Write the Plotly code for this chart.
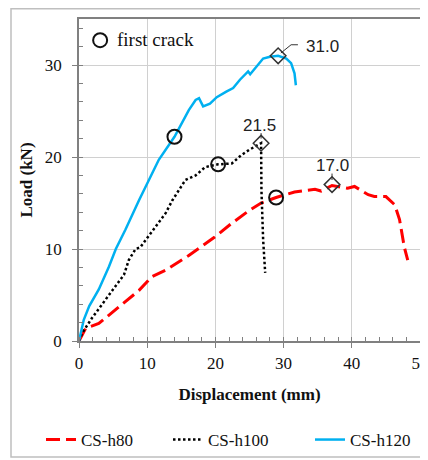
import plotly.graph_objects as go

# ---- data ----
h80_x = [0, 1.0, 2.9, 5.9, 8.8, 10.7, 12.7, 16.1, 18.5, 19.9, 22.4, 24.8, 26.7, 28.9,
         31.6, 34.6, 35.5, 37.1, 39.4, 40.4, 42.4, 43.3, 45.0, 46.3, 47.0, 47.7, 48.2]
h80_y = [0, 1.4, 1.9, 3.7, 5.5, 7.0, 7.7, 9.3, 10.6, 11.3, 12.8, 14.1, 15.0, 15.6,
         16.2, 16.5, 16.3, 16.9, 16.6, 16.8, 15.9, 15.7, 15.7, 14.8, 13.2, 10.2, 8.8]

h100_x = [0, 0.5, 1.9, 3.9, 5.4, 6.6, 7.3, 8.3, 9.0, 9.8, 11.2, 12.7, 13.7, 15.6,
          17.1, 18.5, 20.4, 22.4, 23.8, 25.0, 26.7, 26.75, 27.0, 27.3]
h100_y = [0, 0.9, 2.5, 4.5, 5.9, 7.2, 8.8, 10.0, 10.2, 11.0, 12.3, 13.9, 15.3, 17.5,
          18.0, 18.9, 19.2, 19.3, 20.2, 20.8, 21.5, 16.4, 11.0, 7.4]

h120_x = [0, 0.7, 1.5, 2.9, 4.4, 5.4, 6.8, 8.8, 11.7, 14.0, 16.1, 17.1, 17.6, 18.2,
          19.2, 20.2, 21.6, 22.6, 23.6, 24.8, 25.1, 26.0, 27.0, 28.0, 29.2, 30.4,
          31.1, 31.6, 31.8]
h120_y = [0, 2.3, 3.8, 5.6, 8.1, 10.0, 12.1, 15.3, 19.7, 22.2, 25.1, 26.2, 26.4, 25.5,
          25.8, 26.5, 27.1, 27.5, 28.4, 29.3, 29.0, 29.8, 30.7, 30.9, 31.0, 30.7,
          30.2, 29.1, 27.8]

crack_x = [28.9, 20.4, 14.0]
crack_y = [15.6, 19.2, 22.2]

peak_x = [37.1, 26.7, 29.2]
peak_y = [17.0, 21.5, 31.0]
peak_labels = ["17.0", "21.5", "31.0"]

series_names = ["CS-h80", "CS-h100", "CS-h120"]
x_ticks = [0, 10, 20, 30, 40, 50]
y_ticks = [0, 10, 20, 30]

SERIF = "Liberation Serif, Times New Roman, serif"
SANS = "Liberation Sans, Arial, sans-serif"
FS = 17

# page body has an 8px margin, so the figure is 8px smaller than the window
W, H = 420, 452
L, R, T, B = 71, 8, 11, 119
PW, PH = W - L - R, H - T - B


def px_x(p):  # figure pixel -> paper x
    return (p - L) / PW


def px_y(p):  # figure pixel -> paper y
    return (T + PH - p) / PH


fig = go.Figure()

fig.add_trace(go.Scatter(x=h80_x, y=h80_y, mode="lines", name=series_names[0],
                         legend="legend",
                         line=dict(color="#FF0000", width=3, dash="14px,6px")))
fig.add_trace(go.Scatter(x=h100_x, y=h100_y, mode="lines", name=series_names[1],
                         legend="legend2",
                         line=dict(color="#000000", width=2.5, dash="2.5px,2.5px")))
fig.add_trace(go.Scatter(x=h120_x, y=h120_y, mode="lines", name=series_names[2],
                         legend="legend3",
                         line=dict(color="#00B0F0", width=2.5)))

fig.add_trace(go.Scatter(x=crack_x, y=crack_y, mode="markers", showlegend=False,
                         marker=dict(symbol="circle-open", size=14, color="#111111",
                                     line=dict(width=2, color="#111111"))))
fig.add_trace(go.Scatter(x=peak_x, y=peak_y, mode="markers", showlegend=False,
                         marker=dict(symbol="diamond-open", size=12, color="#333333",
                                     line=dict(width=1.5, color="#333333"))))

# "first crack" key inside plot
fig.add_trace(go.Scatter(x=[3.1], y=[32.7], mode="markers", showlegend=False,
                         marker=dict(symbol="circle-open", size=14, color="#111111",
                                     line=dict(width=2, color="#111111"))))
fig.add_annotation(x=5.3, y=32.8, text="first crack", showarrow=False, xanchor="left",
                   font=dict(family=SERIF, size=19, color="#111111"))

# peak labels
label_pos = [(37.2, 19.1), (26.5, 23.4), (35.7, 32.0)]
for (lx, ly), t in zip(label_pos, peak_labels):
    fig.add_annotation(x=lx, y=ly, text=t, showarrow=False,
                       font=dict(family=SANS, size=FS, color="#222222"))

# leader lines
fig.add_shape(type="line", x0=37.1, y0=17.5, x1=37.1, y1=18.2,
              line=dict(color="#333333", width=1))
fig.add_shape(type="line", x0=26.7, y0=22.0, x1=26.7, y1=22.6,
              line=dict(color="#333333", width=1))
fig.add_shape(type="path", path="M 29.6 31.3 L 31.1 32.2 L 32.1 32.2",
              line=dict(color="#333333", width=1))

# outer frame
fig.add_shape(type="rect", xref="paper", yref="paper",
              x0=px_x(3), x1=px_x(418), y0=px_y(449), y1=px_y(0.8),
              line=dict(color="#BFBFBF", width=1.5), layer="below")

axis_common = dict(
    showgrid=True, gridcolor="#D0D0D0", gridwidth=1,
    showline=True, linecolor="#808080", linewidth=1.5, mirror=True,
    ticks="outside", ticklen=5, tickcolor="#808080", tickwidth=1,
    tickfont=dict(family=SERIF, size=FS, color="#111111"),
    zeroline=False, automargin=False, ticklabeloverflow="allow",
    minor=dict(dtick=2, ticks="inside", ticklen=4, tickcolor="#808080", showgrid=False),
)

fig.update_xaxes(range=[0, 50], tickvals=x_ticks, ticklabelstandoff=1,
                 title=dict(text="<b>Displacement (mm)</b>", standoff=16,
                            font=dict(family=SERIF, size=FS, color="#111111")),
                 **axis_common)
fig.update_yaxes(range=[0, 35], tickvals=y_ticks, ticklabelstandoff=7,
                 title=dict(text="<b>Load (kN)</b>", standoff=8,
                            font=dict(family=SERIF, size=FS, color="#111111")),
                 **axis_common)

legend_common = dict(orientation="h", xanchor="left", yanchor="middle",
                     y=px_y(432), bgcolor="rgba(0,0,0,0)",
                     font=dict(family=SERIF, size=FS, color="#111111"))

fig.update_layout(
    width=W, height=H,
    margin=dict(l=L, r=R, t=T, b=B, autoexpand=False),
    plot_bgcolor="white", paper_bgcolor="white",
    showlegend=True,
    legend=dict(x=px_x(33), **legend_common),
    legend2=dict(x=px_x(160), **legend_common),
    legend3=dict(x=px_x(302), **legend_common),
)

fig.write_html("out.html")
